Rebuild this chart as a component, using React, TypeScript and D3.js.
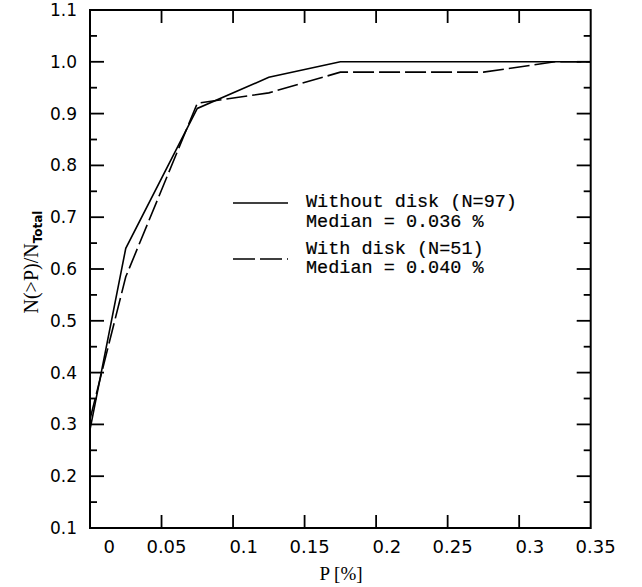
import React from "react";
import * as d3 from "d3";

const pValues = [0, 0.025, 0.075, 0.125, 0.175, 0.225, 0.275, 0.325, 0.35];
const withoutDisk = [0.29, 0.64, 0.91, 0.97, 1.0, 1.0, 1.0, 1.0, 1.0];
const withDisk = [0.31, 0.585, 0.92, 0.94, 0.98, 0.98, 0.98, 1.0, 1.0];
const xTicks = [0, 0.05, 0.1, 0.15, 0.2, 0.25, 0.3, 0.35];
const xTickLabels = ["0", "0.05", "0.1", "0.15", "0.2", "0.25", "0.3", "0.35"];
const yTicks = [0.1, 0.2, 0.3, 0.4, 0.5, 0.6, 0.7, 0.8, 0.9, 1.0, 1.1];
const yMinorTicks = [0.15, 0.25, 0.35, 0.45, 0.55, 0.65, 0.75, 0.85, 0.95, 1.05];
const legendLines = [
  ["Without disk (N=97)", "Median = 0.036 %"],
  ["With disk (N=51)", "Median = 0.040 %"],
];

const W = 642;
const H = 587;
const L = 90, R = 590.7, T = 10, B = 528;

export default function App() {
  const x = d3.scaleLinear().domain([0, 0.35]).range([L, R]);
  const y = d3.scaleLinear().domain([0.1, 1.1]).range([B, T]);
  const line = d3
    .line<number>()
    .x((_, i) => x(pValues[i]))
    .y((d) => y(d));

  const labelFont = "'DejaVu Sans', sans-serif";
  const serif = "'Liberation Serif', 'DejaVu Serif', serif";
  const mono = "'Liberation Mono', monospace";

  return (
    <svg
      width={W}
      height={H}
      style={{ position: "absolute", left: 0, top: 0, background: "#fff" }}
    >
      <rect x={0} y={0} width={W} height={H} fill="#fff" />
      {/* data */}
      <path d={line(withoutDisk) || ""} fill="none" stroke="#000" strokeWidth={1.6} />
      <path
        d={line(withDisk) || ""}
        fill="none"
        stroke="#000"
        strokeWidth={1.6}
        strokeDasharray="21,5"
      />
      {/* frame */}
      <rect x={L} y={T} width={R - L} height={B - T} fill="none" stroke="#000" strokeWidth={2} />
      {/* x ticks */}
      {xTicks.map((t, i) => (
        <g key={"xt" + i}>
          {t > 0 && t < 0.35 && (
            <>
              <line x1={x(t)} x2={x(t)} y1={B} y2={B - 13} stroke="#000" strokeWidth={1.8} />
              <line x1={x(t)} x2={x(t)} y1={T} y2={T + 13} stroke="#000" strokeWidth={1.8} />
            </>
          )}
          <text
            x={x(t) + 25}
            y={553}
            textAnchor="end"
            fontFamily={labelFont}
            fontSize={18}
            fill="#000"
          >
            {xTickLabels[i]}
          </text>
        </g>
      ))}
      {/* y ticks */}
      {yTicks.map((t, i) => (
        <g key={"yt" + i}>
          {t > 0.1 && t < 1.1 && (
            <>
              <line x1={L} x2={L + 14} y1={y(t)} y2={y(t)} stroke="#000" strokeWidth={1.8} />
              <line x1={R} x2={R - 14} y1={y(t)} y2={y(t)} stroke="#000" strokeWidth={1.8} />
            </>
          )}
          <text
            x={77}
            y={y(t) + 6}
            textAnchor="end"
            fontFamily={labelFont}
            fontSize={17}
            fill="#000"
          >
            {t.toFixed(1)}
          </text>
        </g>
      ))}
      {yMinorTicks.map((t, i) => (
        <g key={"ym" + i}>
          <line x1={L} x2={L + 7} y1={y(t)} y2={y(t)} stroke="#000" strokeWidth={1.8} />
          <line x1={R} x2={R - 7} y1={y(t)} y2={y(t)} stroke="#000" strokeWidth={1.8} />
        </g>
      ))}
      {/* axis titles */}
      <text x={341} y={580} textAnchor="middle" fontFamily={serif} fontSize={19} fill="#000">
        P [%]
      </text>
      <text
        transform="translate(38,262) rotate(-90)"
        textAnchor="middle"
        fontFamily={serif}
        fontSize={20}
        fill="#000"
      >
        N(&gt;P)/N
        <tspan fontSize={12} fontWeight="bold" fontFamily={labelFont} dy={4}>
          Total
        </tspan>
      </text>
      {/* legend */}
      <line x1={233} x2={288} y1={203} y2={203} stroke="#000" strokeWidth={1.6} />
      <line
        x1={233}
        x2={288}
        y1={259}
        y2={259}
        stroke="#000"
        strokeWidth={1.6}
        strokeDasharray="22,5"
      />
      {legendLines.map((pair, i) =>
        pair.map((txt, j) => (
          <text
            key={"lg" + i + j}
            x={306}
            y={[207, 227, 254, 273][i * 2 + j]}
            fontFamily={mono}
            fontSize={18.5}
            fill="#000"
            stroke="#000"
            strokeWidth={0.2}
            style={{ whiteSpace: "pre" }}
          >
            {txt}
          </text>
        ))
      )}
    </svg>
  );
}
